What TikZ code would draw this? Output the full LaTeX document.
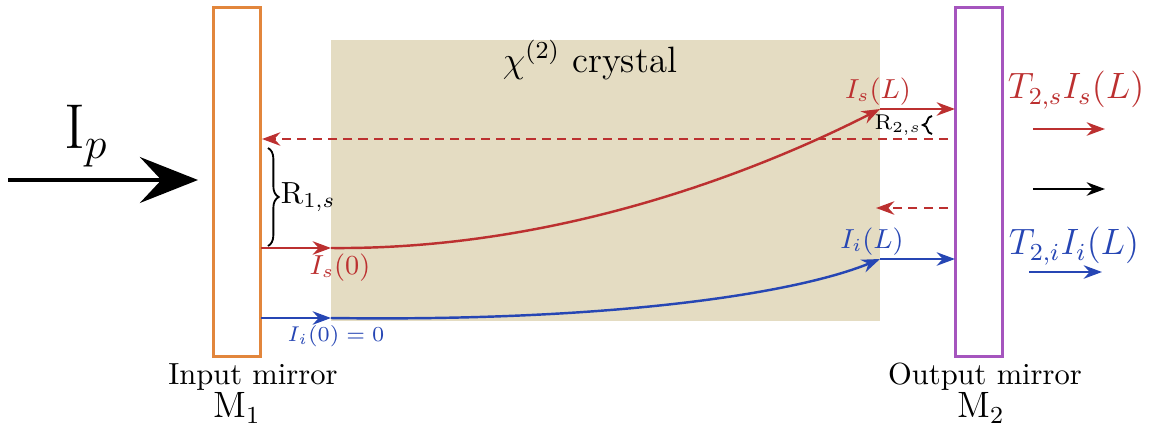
\documentclass[tikz,border=0pt]{standalone}
\usepackage{amsmath,amssymb}
\usepackage{xcolor}
\usepackage{tikz}
\usetikzlibrary{arrows.meta,positioning,calc,decorations.pathreplacing}

\definecolor{sigred}{RGB}{188,48,48}
\definecolor{idlblue}{RGB}{38,70,180}
\definecolor{mirorange}{RGB}{226,134,60}
\definecolor{mirpurple}{RGB}{165,85,190}
\definecolor{crystan}{RGB}{228,220,194}

\begin{document}
\begin{tikzpicture}[
    x=0.0115cm, y=-0.0115cm,
    mirror/.style={draw, line width=1.1pt, inner sep=0, minimum width=0.54cm, minimum height=4.02cm},
    tip/.style={-{Stealth[length=6pt,width=4.4pt]}},
    sig/.style={tip, sigred, line width=0.8pt},
    idl/.style={tip, idlblue, line width=0.8pt},
    back/.style={tip, sigred, line width=0.8pt, dashed, dash pattern=on 3pt off 2pt},
    brc/.style={decorate, decoration={brace, amplitude=#1}, line width=0.6pt}
]
\useasboundingbox (0,0) rectangle (1150,426);

% crystal and mirrors
\fill[crystan] (331,40) rectangle (880,321);
\node[font=\large] (chi) at (590,60) {$\chi^{(2)}$ crystal};
\node[mirror, draw=mirorange] (m1) at (237,182) {};
\node[mirror, draw=mirpurple] (m2) at (979,182) {};
\node[inner sep=1pt] (inlab) at (253,377) {Input mirror};
\node[font=\large, inner sep=1pt] (m1lab) at (237,408) {M$_1$};
\node[inner sep=1pt] (outlab) at (985,377) {Output mirror};
\node[font=\large, inner sep=1pt] (m2lab) at (981,408) {M$_2$};

% pump
\coordinate (pin) at (8,180);
\coordinate (pout) at (198,180);
\draw[line width=1.4pt, -{Stealth[length=19pt,width=15pt,inset=7pt]}] (pin) -- (pout);
\node[font=\huge] (ip) at (86,136) {I$_p$};

% signal
\coordinate (s0) at (261,248);
\coordinate (s1) at (331,248);
\coordinate (s2) at (880,109);
\coordinate (s3) at (955,109);
\draw[sig] (s0) -- (s1);
\draw[sig] (s1) .. controls (560,250) and (760,170) .. (s2);
\draw[sig] (s2) -- (s3);
\node[sigred, font=\small] (is0) at (340,268) {$I_s(0)$};
\node[sigred, font=\small] (isl) at (878,92) {$I_s(L)$};

% idler
\coordinate (i0) at (261,318);
\coordinate (i1) at (331,318);
\coordinate (i2) at (880,259);
\coordinate (i3) at (955,259);
\draw[idl] (i0) -- (i1);
\draw[idl] (i1) .. controls (620,322) and (800,292) .. (i2);
\draw[idl] (i2) -- (i3);
\node[idlblue, font=\scriptsize] (ii0) at (336,336) {$I_i(0)=0$};
\node[idlblue, font=\small] (iil) at (872,242) {$I_i(L)$};

% back-reflected signal
\coordinate (b1) at (948,139);
\coordinate (b2) at (262,139);
\coordinate (b3) at (948,208);
\coordinate (b4) at (876,208);
\draw[back] (b1) -- (b2);
\draw[back] (b3) -- (b4);

% reflectivities
\coordinate (r1a) at (268,148);
\coordinate (r1b) at (268,246);
\draw[brc=3.5pt] (r1a) -- (r1b);
\node[right=4pt of $(r1a)!0.5!(r1b)$, inner sep=0pt] (r1) {R$_{1,s}$};
\coordinate (r2a) at (932,134);
\coordinate (r2b) at (932,116);
\draw[brc=3pt] (r2a) -- (r2b);
\node[font=\scriptsize, inner sep=1pt] (r2) at (898,125) {R$_{2,s}$};

% transmitted beams
\node[sigred, font=\large] (tsl) at (1076,90) {$T_{2,s}I_s(L)$};
\node[idlblue, font=\large] (til) at (1074,246) {$T_{2,i}I_i(L)$};
\coordinate (o1a) at (1033,129);
\coordinate (o1b) at (1105,129);
\coordinate (o2a) at (1033,189);
\coordinate (o2b) at (1105,189);
\coordinate (o3a) at (1029,272);
\coordinate (o3b) at (1102,272);
\draw[sig] (o1a) -- (o1b);
\draw[tip, line width=0.8pt] (o2a) -- (o2b);
\draw[idl] (o3a) -- (o3b);
\end{tikzpicture}
\end{document}
